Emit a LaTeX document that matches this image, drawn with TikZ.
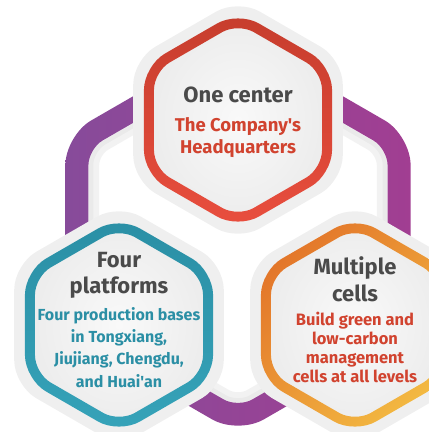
\documentclass[tikz,border=0pt]{standalone}
\usepackage{fontspec}
\newfontfamily\fira{Fira Sans}
\usetikzlibrary{calc}
\definecolor{ringL}{HTML}{874B9A}
\definecolor{ringR}{HTML}{A13E92}
\definecolor{halo}{HTML}{EFEFEF}
\definecolor{redT}{HTML}{C63D2D}
\definecolor{redB}{HTML}{E94E3E}
\definecolor{tealT}{HTML}{2A8FA5}
\definecolor{tealB}{HTML}{36A3B9}
\definecolor{orL}{HTML}{E3762A}
\definecolor{orR}{HTML}{F3BA42}
\definecolor{ttl}{HTML}{4A4A4A}
\definecolor{txtred}{HTML}{D1432F}
\definecolor{txtteal}{HTML}{2B8FA5}
\definecolor{fillIn}{HTML}{F9F9F9}
\definecolor{fillOut}{HTML}{EDEDED}
\definecolor{shad}{HTML}{E6E6E6}
\newcommand{\hexpath}[4]{[rounded corners=#4pt] ($(#1,#2)+(90:#3)$) -- ($(#1,#2)+(150:#3)$) -- ($(#1,#2)+(210:#3)$) -- ($(#1,#2)+(270:#3)$) -- ($(#1,#2)+(330:#3)$) -- ($(#1,#2)+(30:#3)$) -- cycle}
\tikzset{
  ttlnode/.style={font=\fira\bfseries\fontsize{22}{26}\selectfont, text=ttl, anchor=base, inner sep=0pt},
  topsub/.style={font=\fira\bfseries\fontsize{18.5}{22}\selectfont, text=txtred, anchor=base, inner sep=0pt},
  tealsub/.style={font=\fira\bfseries\fontsize{16}{22}\selectfont, text=txtteal, anchor=base, inner sep=0pt},
  orsub/.style={font=\fira\bfseries\fontsize{16.5}{19}\selectfont, text=txtred, anchor=base, inner sep=0pt},
}
\begin{document}
\begin{tikzpicture}[x=1pt,y=-1pt]
\useasboundingbox (0,0) rectangle (429,432);
\clip (0,0) rectangle (429,432);
% soft shadow inside the ring
\draw[shad, line width=10pt, opacity=0.5] \hexpath{238}{235}{166}{13};
\draw[shad, line width=5pt, opacity=0.7] \hexpath{238}{235}{170}{15};
% purple ring
\shade[left color=ringL, right color=ringR, even odd rule] \hexpath{238}{235}{199.3}{29.7} \hexpath{238}{235}{172.7}{16.5};
% top hexagon
\fill[halo] \hexpath{238}{120}{121}{25};
\shade[inner color=fillIn, outer color=fillOut] \hexpath{238}{120}{97}{18};
\shade[top color=redT, bottom color=redB, even odd rule] \hexpath{238}{120}{108.6}{24} \hexpath{238}{120}{97}{18};
% bottom-left hexagon
\fill[halo] \hexpath{119}{325}{121}{25};
\shade[inner color=fillIn, outer color=fillOut] \hexpath{119}{325}{97}{18};
\shade[top color=tealT, bottom color=tealB, even odd rule] \hexpath{119}{325}{108.6}{24} \hexpath{119}{325}{97}{18};
% bottom-right hexagon
\fill[halo] \hexpath{355}{325}{121}{25};
\shade[inner color=fillIn, outer color=fillOut] \hexpath{355}{325}{97}{18};
\shade[left color=orL, right color=orR, shading angle=45, even odd rule] \hexpath{355}{325}{108.6}{24} \hexpath{355}{325}{97}{18};
% texts
\node[ttlnode] (c-title) at (238,102) {One center};
\node[topsub] (c-l1) at (238,131) {The Company's};
\node[topsub] (c-l2) at (238,153) {Headquarters};
\node[ttlnode] (p-title1) at (119,267) {Four};
\node[ttlnode] (p-title2) at (119,293) {platforms};
\node[tealsub] (p-l1) at (119,320) {Four production bases};
\node[tealsub] (p-l2) at (119,342) {in Tongxiang,};
\node[tealsub] (p-l3) at (119,364) {Jiujiang, Chengdu,};
\node[tealsub] (p-l4) at (119,387) {and Huai'an};
\node[ttlnode] (m-title1) at (355,274) {Multiple};
\node[ttlnode] (m-title2) at (355,301) {cells};
\node[orsub] (m-l1) at (355,325) {Build green and};
\node[orsub] (m-l2) at (355,344) {low-carbon};
\node[orsub] (m-l3) at (355,363) {management};
\node[orsub] (m-l4) at (355,382) {cells at all levels};
\end{tikzpicture}
\end{document}
